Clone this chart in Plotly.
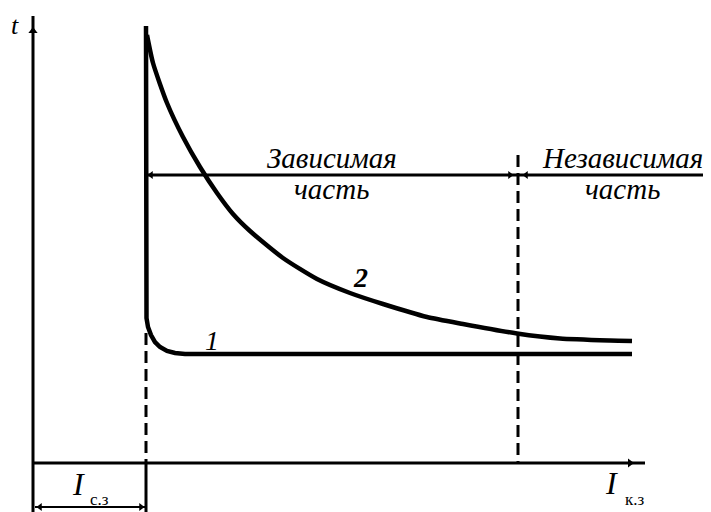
import plotly.graph_objects as go

# Schematic time-current characteristic of an overcurrent relay.
# Units: current along x, time along y (arbitrary schematic units).

I_sz = 11.3          # pickup current I_с.з
I_boundary = 48.5    # boundary between dependent and independent parts
x_axis_end = 61.2
y_axis_top = 44.7
y_bottom = -4.9

# curve 1: nearly independent characteristic
curve1_I = [11.3, 11.3, 11.3, 11.3, 11.35, 11.5, 11.8, 12.2, 12.7, 13.4,
            14.2, 15.2, 59.9]
curve1_t = [43.7, 36.3, 26.3, 16.3, 14.5, 13.6, 12.8, 12.1, 11.6, 11.2,
            11.0, 10.9, 10.9]

# curve 2: dependent (inverse) characteristic
curve2_I = [11.4, 12.0, 13.4, 15.0, 16.7, 18.4, 20.0, 21.7, 25.0, 28.4,
            31.7, 35.0, 39.4, 43.0, 48.4, 52.7, 57.7, 59.9]
curve2_t = [42.8, 40.0, 36.0, 32.6, 29.6, 27.0, 24.9, 23.2, 20.5, 18.4,
            17.0, 15.9, 14.6, 13.9, 12.95, 12.45, 12.25, 12.2]

zone_line_t = 28.8
zone_line_end = 67.0
dim_line_t = -4.4

fig = go.Figure()
black = "black"

def line(xs, ys, width=3, dash=None, shape="linear"):
    fig.add_trace(go.Scatter(x=xs, y=ys, mode="lines",
                             line=dict(color=black, width=width, dash=dash,
                                       shape=shape, smoothing=0.6),
                             hoverinfo="skip", showlegend=False))

def arrowheads(xs, ys, symbols, size=7):
    fig.add_trace(go.Scatter(x=xs, y=ys, mode="markers",
                             marker=dict(symbol=symbols, size=size, color=black),
                             hoverinfo="skip", showlegend=False))

# coordinate axes
line([0, 0], [y_bottom, y_axis_top], width=3)
line([0, x_axis_end], [0, 0], width=3)
arrowheads([0, x_axis_end - 1.5], [y_axis_top - 1.5, 0],
           ["triangle-up", "triangle-right"], size=8)

# pickup current: dashed projection and extension line below the axis
line([I_sz, I_sz], [13.0, 0], width=3, dash="12px,6px")
line([I_sz, I_sz], [0, y_bottom], width=3)

# boundary between the two parts of the characteristic
line([I_boundary, I_boundary], [30.8, 0], width=3, dash="12px,6px")

# zone line with arrows
line([I_sz, zone_line_end], [zone_line_t, zone_line_t], width=3)
arrowheads([I_sz + 0.5, I_boundary - 0.8, I_boundary + 0.8],
           [zone_line_t] * 3,
           ["triangle-left", "triangle-right", "triangle-left"], size=7)

# dimension line for I_с.з
line([0.2, I_sz], [dim_line_t, dim_line_t], width=2)
arrowheads([0.7, I_sz - 0.5], [dim_line_t] * 2,
           ["triangle-left", "triangle-right"], size=7)

# characteristics
line(curve1_I, curve1_t, width=4.5)
line(curve2_I, curve2_t, width=4.5, shape="spline")

serif = "Liberation Serif, Times New Roman, DejaVu Serif, serif"

def label(x, y, text, size, italic=True):
    fig.add_annotation(x=x, y=y, text=text, showarrow=False,
                       xanchor="center", yanchor="middle",
                       font=dict(family=serif, size=size, color=black,
                                 style="italic" if italic else "normal"))

label(29.9, 30.5, "Зависимая", 29)
label(29.8, 27.4, "часть", 29)
label(58.9, 30.5, "Независимая", 29)
label(58.9, 27.4, "часть", 29)
label(32.7, 18.6, "<b>2</b>", 28)
label(17.9, 12.3, "1", 28)
label(-1.8, 43.8, "t", 26)
label(4.5, -2.1, "I", 32)
label(6.6, -3.6, "с.з", 17, italic=False)
label(57.8, -2.0, "I", 32)
label(60.2, -3.6, "к.з", 17, italic=False)

fig.update_layout(
    width=711, height=512,
    margin=dict(l=0, r=0, t=0, b=0),
    paper_bgcolor="white", plot_bgcolor="white",
    xaxis=dict(range=[-3.3, 67.8], visible=False, fixedrange=True),
    yaxis=dict(range=[y_bottom, 46.3], visible=False, fixedrange=True),
)

fig.write_html("out.html")
